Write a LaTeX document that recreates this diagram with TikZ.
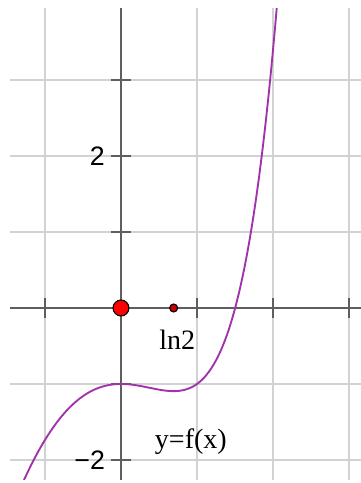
\documentclass[tikz,border=0pt]{standalone}
\usepackage{fontspec}
\setmainfont{Liberation Serif}
\newfontfamily\axisfont{Liberation Sans}
\usetikzlibrary{positioning}
\definecolor{gridgray}{RGB}{210,210,210}
\definecolor{axisgray}{RGB}{95,95,95}
\definecolor{curvepurple}{RGB}{160,50,170}

\begin{document}
\begin{tikzpicture}[x=1cm, y=1cm,
    gridline/.style={gridgray, line width=0.75pt},
    axisline/.style={axisgray, line width=0.6pt},
    ticklabel/.style={font=\axisfont\fontsize{10}{12}\selectfont, inner sep=1pt},
    curvelabel/.style={font=\fontsize{10.5}{12}\selectfont, inner sep=1pt},
    bigdot/.style={circle, draw=black, fill=red, line width=0.4pt, inner sep=0pt, minimum size=2.1mm},
    smalldot/.style={circle, draw=black, fill=red!80!black, line width=0.4pt, inner sep=0pt, minimum size=1.05mm}]
    \useasboundingbox (-1.592,-2.303) rectangle (3.158,4.053);

    % Grid
    \foreach \x in {-1, 1, 2, 3} {
        \draw[gridline] (\x,-2.263) -- (\x,3.947);
    }
    \foreach \y in {-2, -1, 1, 2, 3} {
        \draw[gridline] (-1.46,\y) -- (3.158,\y);
    }

    % Axes and ticks
    \draw[axisline] (-1.46,0) -- (3.158,0);
    \draw[axisline] (0,-2.263) -- (0,3.947);
    \foreach \x in {-1, 1, 2, 3} {
        \draw[axisline] (\x,-0.13) -- (\x,0.13);
    }
    \foreach \y in {-2, -1, 1, 2, 3} {
        \draw[axisline] (-0.13,\y) -- (0.13,\y);
    }
    \node[ticklabel, anchor=east] (ytwo) at (-0.17,2) {2};
    \node[ticklabel, anchor=east] (ymtwo) at (-0.17,-2) {−2};

    % Graph of f
    \begin{scope}
        \clip (-1.46,-2.263) rectangle (3.158,3.947);
        \draw[curvepurple, line width=0.7pt, domain=-1.4:2.1, samples=120, smooth]
            plot (\x, {((\x)-1)*exp(\x)-(\x)^2});
    \end{scope}

    % Marked points
    \node[bigdot] (origin) at (0,0) {};
    \node[smalldot] (lndot) at (0.693,0) {};
    \node[curvelabel] (lnlabel) at (0.74,-0.42) {ln2};
    \node[curvelabel] (flabel) at (0.92,-1.76) {y=f(x)};
\end{tikzpicture}
\end{document}
